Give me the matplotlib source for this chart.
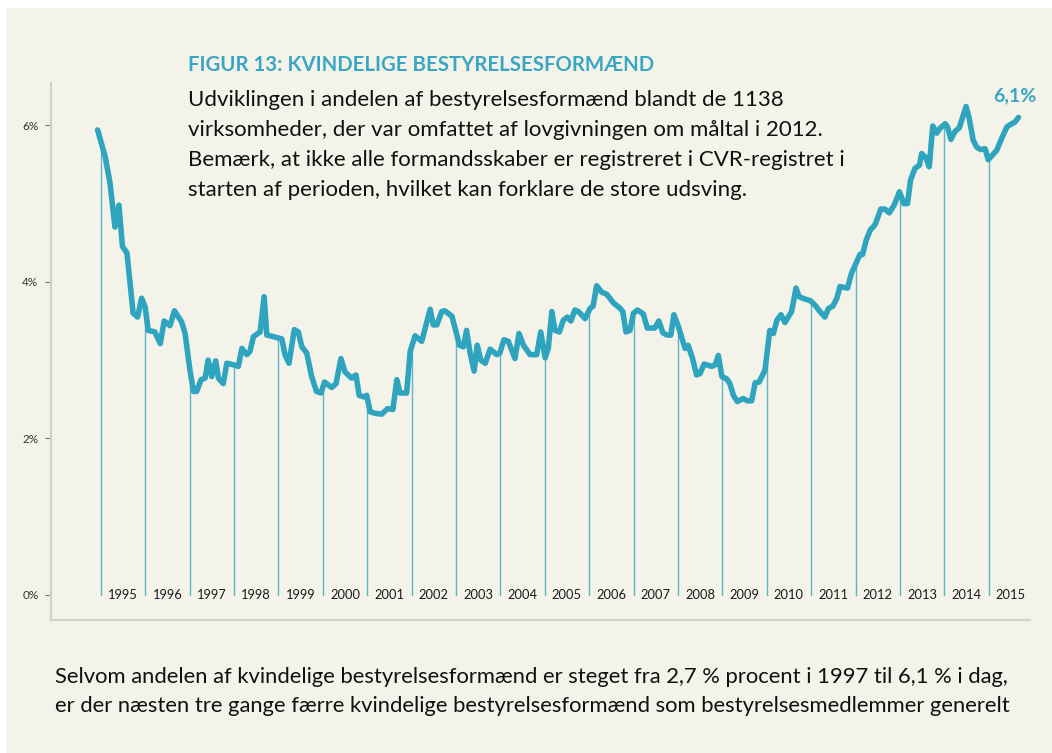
import numpy as np
import matplotlib
matplotlib.use("Agg")
import matplotlib.pyplot as plt
from matplotlib.patches import Rectangle

# andel kvindelige formænd (%)
years = [1994.93, 1995.10, 1995.21, 1995.32, 1995.41, 1995.49, 1995.59, 1995.73, 1995.83, 1995.92,
         1996.00, 1996.07, 1996.22, 1996.34, 1996.43, 1996.56, 1996.66, 1996.82, 1996.90,
         1997.01, 1997.09, 1997.16, 1997.26, 1997.35, 1997.42, 1997.50, 1997.59, 1997.65, 1997.76, 1997.84, 1997.99,
         1998.10, 1998.18, 1998.29, 1998.36, 1998.44, 1998.59, 1998.68, 1998.74, 1998.89,
         1999.08, 1999.15, 1999.24, 1999.36, 1999.45, 1999.53, 1999.64, 1999.75, 1999.86, 1999.96,
         2000.04, 2000.20, 2000.30, 2000.41, 2000.50, 2000.65, 2000.75, 2000.82, 2000.93, 2000.99,
         2001.07, 2001.18, 2001.33, 2001.46, 2001.58, 2001.67, 2001.74, 2001.89, 2001.97,
         2002.08, 2002.23, 2002.42, 2002.49, 2002.57, 2002.68, 2002.75, 2002.91, 2002.98,
         2003.08, 2003.17, 2003.24, 2003.32, 2003.41, 2003.48, 2003.56, 2003.66, 2003.77, 2003.92, 2003.99,
         2004.08, 2004.18, 2004.33, 2004.42, 2004.52, 2004.67, 2004.82, 2004.91,
         2005.01, 2005.08, 2005.16, 2005.23, 2005.33, 2005.42, 2005.51, 2005.59, 2005.68, 2005.76, 2005.91,
         2006.02, 2006.09, 2006.17, 2006.28, 2006.40, 2006.55, 2006.70, 2006.76, 2006.83, 2006.92,
         2007.00, 2007.09, 2007.22, 2007.31, 2007.48, 2007.57, 2007.66, 2007.75, 2007.84, 2007.91,
         2008.01, 2008.16, 2008.23, 2008.33, 2008.42, 2008.50, 2008.59, 2008.76, 2008.84, 2008.91, 2008.99,
         2009.10, 2009.17, 2009.25, 2009.34, 2009.47, 2009.56, 2009.66, 2009.74, 2009.83, 2009.96,
         2010.07, 2010.15, 2010.23, 2010.32, 2010.41, 2010.56, 2010.66, 2010.73, 2010.86, 2010.98,
         2011.09, 2011.20, 2011.31, 2011.39, 2011.49, 2011.58, 2011.65, 2011.82, 2011.91,
         2012.03, 2012.10, 2012.16, 2012.24, 2012.33, 2012.44, 2012.57, 2012.66, 2012.76, 2012.87, 2012.99,
         2013.09, 2013.17, 2013.24, 2013.34, 2013.44, 2013.49, 2013.59, 2013.66, 2013.74, 2013.83, 2013.90,
         2014.02, 2014.07, 2014.15, 2014.24, 2014.34, 2014.49, 2014.56, 2014.65, 2014.73, 2014.82, 2014.92, 2014.99,
         2015.07, 2015.18, 2015.29, 2015.41, 2015.52, 2015.59, 2015.67]
share = [5.94, 5.60, 5.26, 4.70, 4.98, 4.45, 4.37, 3.60, 3.55, 3.79,
         3.68, 3.38, 3.36, 3.21, 3.50, 3.44, 3.63, 3.49, 3.34,
         2.87, 2.60, 2.60, 2.75, 2.77, 3.00, 2.79, 2.99, 2.77, 2.70, 2.96, 2.94,
         2.92, 3.15, 3.07, 3.11, 3.30, 3.36, 3.81, 3.32, 3.30,
         3.27, 3.07, 2.96, 3.39, 3.36, 3.17, 3.09, 2.79, 2.60, 2.58,
         2.72, 2.65, 2.70, 3.02, 2.85, 2.77, 2.81, 2.55, 2.53, 2.55,
         2.34, 2.32, 2.31, 2.38, 2.37, 2.75, 2.58, 2.58, 3.11,
         3.31, 3.24, 3.65, 3.45, 3.45, 3.62, 3.63, 3.56, 3.41,
         3.19, 3.17, 3.38, 3.09, 2.86, 3.19, 3.00, 2.96, 3.14, 3.07, 3.09,
         3.26, 3.24, 3.02, 3.34, 3.19, 3.07, 3.07, 3.36,
         3.03, 3.15, 3.62, 3.38, 3.36, 3.51, 3.55, 3.50, 3.64, 3.62, 3.53,
         3.66, 3.69, 3.95, 3.87, 3.84, 3.73, 3.66, 3.62, 3.36, 3.38,
         3.60, 3.64, 3.59, 3.41, 3.41, 3.50, 3.35, 3.32, 3.32, 3.58,
         3.43, 3.15, 3.19, 3.02, 2.81, 2.83, 2.95, 2.92, 2.94, 3.06, 2.79,
         2.76, 2.70, 2.55, 2.47, 2.51, 2.48, 2.48, 2.71, 2.72, 2.87,
         3.38, 3.34, 3.51, 3.58, 3.48, 3.62, 3.92, 3.81, 3.78, 3.76,
         3.70, 3.62, 3.55, 3.66, 3.69, 3.79, 3.94, 3.92, 4.11,
         4.26, 4.35, 4.35, 4.53, 4.66, 4.73, 4.93, 4.93, 4.88, 4.98, 5.15,
         5.00, 5.00, 5.30, 5.45, 5.49, 5.64, 5.58, 5.47, 5.99, 5.90, 5.96,
         6.02, 5.98, 5.82, 5.92, 5.97, 6.24, 6.09, 5.81, 5.72, 5.69, 5.70, 5.56,
         5.61, 5.68, 5.83, 5.98, 6.02, 6.04, 6.10]
year_labels = [str(y) for y in range(1995, 2016)]
y_ticks = [0, 2, 4, 6]
y_tick_labels = ["0%", "2%", "4%", "6%"]
end_label = "6,1%"

title = "FIGUR 13: KVINDELIGE BESTYRELSESFORMÆND"
subtitle = ["Udviklingen i andelen af bestyrelsesformænd blandt de 1138",
            "virksomheder, der var omfattet af lovgivningen om måltal i 2012.",
            "Bemærk, at ikke alle formandsskaber er registreret i CVR-registret i",
            "starten af perioden, hvilket kan forklare de store udsving."]
footer = ["Selvom andelen af kvindelige bestyrelsesformænd er steget fra 2,7 % procent i 1997 til 6,1 % i dag,",
          "er der næsten tre gange færre kvindelige bestyrelsesformænd som bestyrelsesmedlemmer generelt"]

W, H = 1052, 753
bg = "#f4f3e9"
teal = "#2fa4bf"
plt.rcParams["font.family"] = ["Lato", "DejaVu Sans"]

fig = plt.figure(figsize=(W / 100, H / 100), dpi=100)
fig.patch.set_facecolor("white")
fig.patches.append(Rectangle((6 / W, 0), 1, 1 - 8 / H, transform=fig.transFigure,
                             facecolor=bg, edgecolor="none", zorder=-10))

def fx(px):
    return px / W

def fy(py):
    return 1 - py / H

ax = fig.add_axes([fx(51), fy(620), fx(1030) - fx(51), fy(83) - fy(620)])
ax.set_facecolor("none")
ax.set_xlim(1993.88, 2015.93)
ax.set_ylim(-0.32, 6.54)

for s in ["top", "right"]:
    ax.spines[s].set_visible(False)
for s in ["left", "bottom"]:
    ax.spines[s].set_color("#d3d2ca")
    ax.spines[s].set_linewidth(1.6)

ax.set_xticks([])
ax.set_yticks(y_ticks)
ax.set_yticklabels(y_tick_labels, fontsize=8.5, color="#333333")
ax.tick_params(axis="y", length=4, width=0.8, color="#777777", pad=5)

# lodrette årsstreger fra 0 op til kurven
for lab in year_labels:
    yr = int(lab)
    top = np.interp(yr, years, share)
    ax.plot([yr, yr], [0, top], color="#5db5ca", lw=1.0, zorder=1)
    ax.text(yr + 0.5, 0, lab, ha="center", va="center", fontsize=9.3, color="#1a1a1a")

ax.plot(years, share, color=teal, lw=4.0, solid_joinstyle="round", solid_capstyle="round", zorder=3)

fig.text(fx(1015), fy(101), end_label, ha="center", va="baseline", fontsize=14,
         fontweight="bold", color="#3aa6c4")

fig.text(fx(188), fy(71), title, ha="left", va="baseline", fontsize=14.7,
         fontweight="bold", color="#3aa6c4")
for i, line in enumerate(subtitle):
    fig.text(fx(188), fy(106 + 30 * i), line, ha="left", va="baseline", fontsize=16,
             color="#111111")
for i, line in enumerate(footer):
    fig.text(fx(55), fy(683 + 29 * i), line, ha="left", va="baseline", fontsize=15.8,
             color="#111111")

fig.savefig("out.png", dpi=100, facecolor=fig.get_facecolor())
